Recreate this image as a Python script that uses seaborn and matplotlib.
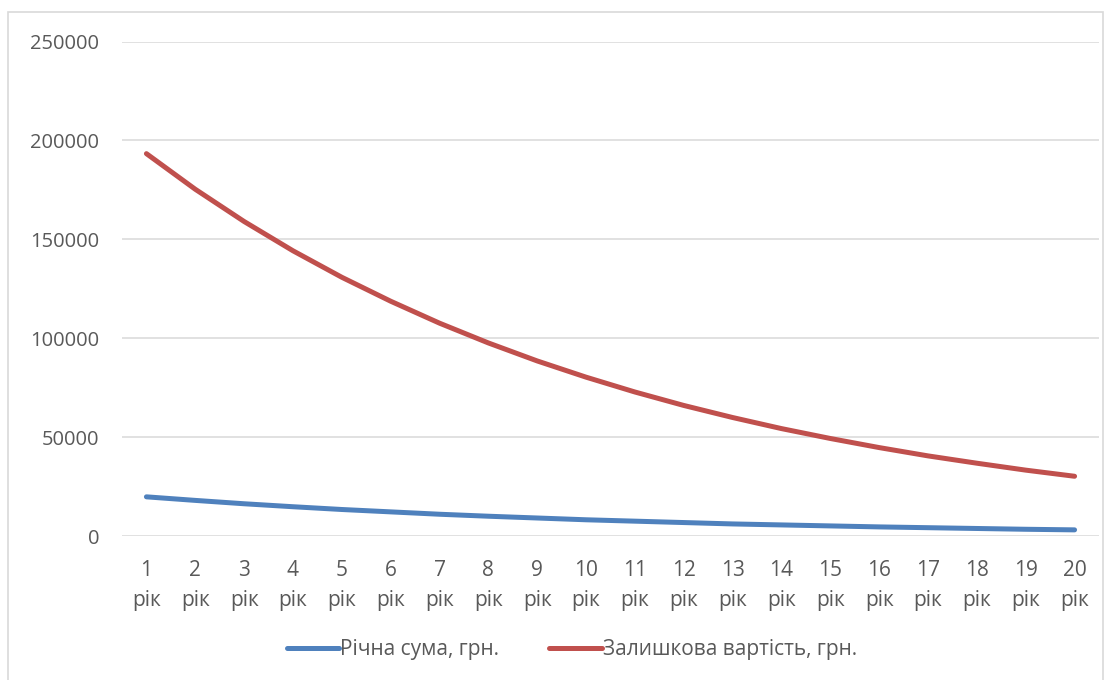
import matplotlib
matplotlib.use("Agg")
import matplotlib.pyplot as plt
import seaborn as sns
import pandas as pd
from matplotlib.patches import Rectangle
from matplotlib.lines import Line2D

years = list(range(1, 21))
tick_labels = [f"{y}\nрік" for y in years]
annual_sum = [19800, 18000, 16300, 14800, 13400, 12200, 11000, 10000, 9100, 8200,
              7500, 6800, 6100, 5600, 5100, 4600, 4200, 3800, 3400, 3100]
residual_value = [193300, 175300, 159000, 144200, 130800, 118700, 107600, 97600, 88500, 80300,
                  72800, 66000, 59900, 54300, 49300, 44700, 40500, 36800, 33300, 30200]
series_names = ["Річна сума, грн.", "Залишкова вартість, грн."]
colors = ["#4F81BD", "#C0504D"]

df = pd.DataFrame({
    "year": years * 2,
    "value": annual_sum + residual_value,
    "series": [series_names[0]] * 20 + [series_names[1]] * 20,
})

sns.set_style("white")
plt.rcParams["font.family"] = ["Open Sans", "DejaVu Sans"]

fig = plt.figure(figsize=(11.17, 6.8), dpi=100)
W, H = 1117, 680
ax = fig.add_axes([122 / W, 1 - 536 / H, (1099 - 122) / W, (536 - 41.5) / H])

sns.lineplot(data=df, x="year", y="value", hue="series", palette=colors,
             linewidth=3.6, ax=ax, legend=False, solid_capstyle="round")

ax.set_xlim(0.5, 20.5)
ax.set_ylim(0, 250000)
ax.set_yticks(range(0, 250001, 50000))
ax.set_yticklabels([str(v) for v in range(0, 250001, 50000)])
ax.set_xticks(years)
ax.set_xticklabels(tick_labels, linespacing=1.6)
ax.set_xlabel("")
ax.set_ylabel("")
for s in ax.spines.values():
    s.set_visible(False)
ax.grid(axis="y", color="#D9D9D9", linewidth=1.1)
ax.grid(axis="x", visible=False)
ax.set_axisbelow(True)
ax.tick_params(axis="both", length=0, colors="#595959")
ax.tick_params(axis="y", pad=16.5, labelsize=14.5)
ax.tick_params(axis="x", pad=17, labelsize=15)

handles = [Line2D([0], [0], color=c, linewidth=3.6, solid_capstyle="round") for c in colors]
fig.legend(handles, series_names, loc="center", bbox_to_anchor=(572 / W, 1 - 650 / H),
           ncol=2, frameon=False, fontsize=15, handlelength=2.5, handletextpad=0.05,
           columnspacing=2.4, labelcolor="#595959")

fig.patches.append(Rectangle((8 / W, -0.01), (1103 - 8) / W, 1 - 12 / H + 0.01,
                             transform=fig.transFigure, fill=False,
                             edgecolor="#D9D9D9", linewidth=1.2))

fig.savefig("out.png", dpi=100)
